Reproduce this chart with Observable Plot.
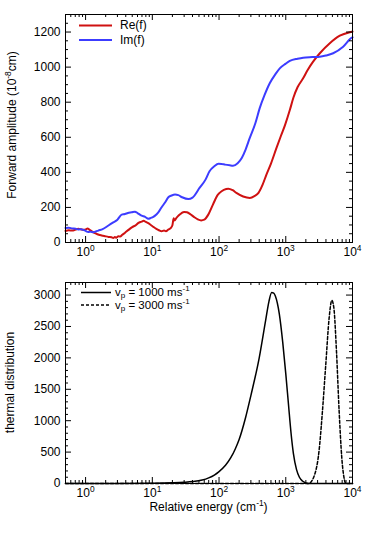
<!DOCTYPE html>
<html>
<head>
<meta charset="utf-8">
<script src="https://cdn.jsdelivr.net/npm/d3@7"></script>
<script src="https://cdn.jsdelivr.net/npm/@observablehq/plot@0.6"></script>
<style>
  html, body { margin: 0; padding: 0; background: #fff; }
  #chart svg { display: block; }
</style>
</head>
<body>
<div id="chart"></div>
<script>
// ---- Data ----
// Top panel: forward amplitude (10^-8 cm) vs relative energy (cm^-1)
const reEnergy = [0.5,0.56,0.63,0.71,0.78,0.85,0.93,1.0,1.07,1.15,1.26,1.41,1.58,1.74,1.95,2.2,2.45,2.6,2.75,2.9,3.1,3.3,3.55,3.9,4.4,5.0,5.6,6.2,6.9,7.4,8.0,8.7,9.5,10.5,11.5,12.6,13.8,15.0,16.0,17.4,19.0,20.0,20.9,21.5,23,25,27.5,30,33,37,42,48,54,60,69,81,95,102,118,138,160,182,230,290,340,390,450,513,600,724,850,977,1150,1300,1500,1820,2140,2570,3240,4570,6460,9770,10000];
const reValue  = [66,70,68,74,78,75,72,74,80,72,62,52,44,40,36,32,30,26,31,27,36,34,44,56,72,88,98,112,119,124,117,110,100,88,78,70,64,68,64,74,84,98,138,126,140,155,168,174,172,162,146,132,126,130,159,216,270,283,300,307,298,283,262,254,265,283,330,387,450,538,610,671,755,825,885,936,985,1031,1079,1136,1179,1202,1203];
const imEnergy = [0.5,0.56,0.63,0.71,0.78,0.85,0.93,1.0,1.1,1.2,1.3,1.45,1.55,1.8,2.2,2.6,3.0,3.47,3.9,4.3,4.9,5.5,6.0,6.9,7.8,8.7,9.5,10.5,11.0,12.3,13.8,15.5,17.4,19.5,21.9,24.5,28,34.7,40,51,63,72,85,98,110,123,145,162,190,219,250,288,350,407,480,575,700,813,1000,1150,1500,1820,2500,3240,4000,5130,7240,9770,10000];
const imValue  = [83,84,80,78,74,76,72,66,60,62,58,64,68,76,97,115,130,159,162,168,172,176,168,153,146,135,140,148,153,172,201,228,258,268,273,270,258,248,256,311,360,406,435,449,448,444,440,438,452,482,530,595,680,766,840,908,960,993,1020,1035,1048,1054,1057,1059,1066,1079,1116,1168,1170];

// Bottom panel: thermal distribution vs relative energy
const v1000Energy = [0.5,1,3,10,20,30,40,56,70,85,100,125,150,175,200,250,300,400,500,560,615,660,700,800,900,1000,1100,1200,1300,1450,1600,1800,2000,2200,3000,10000];
const v1000Value  = [0,0.3,1,5,12,20,30,55,90,135,190,290,410,550,700,1050,1400,2000,2600,2900,3040,3030,2980,2700,2250,1750,1250,800,480,220,100,35,8,0,0,0];
const v3000Energy = [0.5,10,100,1000,2200,2630,3160,3550,3980,4470,4900,5250,5750,6300,6900,7600,7950,10000];
const v3000Value  = [0,0,0,0,0,105,530,1160,1900,2640,2915,2800,2110,1160,420,50,0,0];

const seriesTop = ["Re(f)", "Im(f)"];
const seriesBottom = ["v_{p} = 1000 ms^{-1}", "v_{p} = 3000 ms^{-1}"];
const xMajor = [1, 10, 100, 1000, 10000];
const yTicksTop = [0, 200, 400, 600, 800, 1000, 1200];
const yTicksBottom = [0, 500, 1000, 1500, 2000, 2500, 3000];

// ---- Layout ----
const W = 374, ML = 65, MR = 22;
const FW = W - ML - MR;
const RED = "#cf1111", BLUE = "#3c3cff";
const FONT = "Liberation Sans, Arial, Helvetica, sans-serif";

const xMinor = [];
for (let k = -1; k <= 3; k++) for (let m = 2; m <= 9; m++) {
  const v = m * Math.pow(10, k);
  if (v >= 0.5 && v <= 10000) xMinor.push(v);
}
const toRows = (xs, ys) => xs.map((x, i) => ({x, y: ys[i]}));

function frameTicks(FH, yMaj, yMin) {
  return [
    Plot.tickX(xMajor, {x: d => d, insetTop: FH - 6, stroke: "black"}),
    Plot.tickX(xMajor, {x: d => d, insetBottom: FH - 6, stroke: "black"}),
    Plot.tickX(xMinor, {x: d => d, insetTop: FH - 3, stroke: "black"}),
    Plot.tickX(xMinor, {x: d => d, insetBottom: FH - 3, stroke: "black"}),
    Plot.tickY(yMaj, {y: d => d, insetRight: FW - 6, stroke: "black"}),
    Plot.tickY(yMaj, {y: d => d, insetLeft: FW - 6, stroke: "black"}),
    Plot.tickY(yMin, {y: d => d, insetRight: FW - 3, stroke: "black"}),
    Plot.tickY(yMin, {y: d => d, insetLeft: FW - 3, stroke: "black"}),
    Plot.axisX({ticks: xMajor, tickSize: 0, tickPadding: 5, label: null,
      tickFormat: d => `10^{${Math.round(Math.log10(d))}}`, fontSize: 12}),
    Plot.axisY({ticks: yMaj, tickSize: 0, tickPadding: 5, label: null, fontSize: 12,
      tickFormat: d => String(d)}),
    Plot.frame({stroke: "black", strokeWidth: 1})
  ];
}

// rich text: ^{..} superscript, _{..} subscript
function rich(el, s, fs) {
  const ns = "http://www.w3.org/2000/svg";
  while (el.firstChild) el.removeChild(el.firstChild);
  const re = /(\^|_)\{([^}]*)\}/g;
  let last = 0, m, pending = 0;
  const add = (txt, dy, small) => {
    const t = document.createElementNS(ns, "tspan");
    t.textContent = txt;
    if (small) t.setAttribute("font-size", (fs * 0.7) + "px");
    if (dy) t.setAttribute("dy", dy + "px");
    el.appendChild(t);
  };
  while ((m = re.exec(s))) {
    if (m.index > last) { add(s.slice(last, m.index), pending, false); pending = 0; }
    const shift = m[1] === "^" ? -fs * 0.42 : fs * 0.22;
    add(m[2], pending + shift, true);
    pending = -shift;
    last = re.lastIndex;
  }
  if (last < s.length) add(s.slice(last), pending, false);
}

function fixTickLabels(svg) {
  svg.querySelectorAll('g[aria-label="x-axis tick label"] text').forEach(t => rich(t, t.textContent, 12));
}

function addText(svg, x, y, str, opts = {}) {
  const fs = opts.size || 12;
  const t = d3.select(svg).append("text")
    .attr("x", x).attr("y", y)
    .attr("font-family", FONT).attr("font-size", fs)
    .attr("fill", "black")
    .attr("text-anchor", opts.anchor || "start")
    .attr("dy", "0.35em");
  if (opts.rotate) t.attr("transform", `rotate(-90 ${x} ${y})`);
  rich(t.node(), str, fs);
  return t;
}
function addLine(svg, x1, x2, y, stroke, width, dash) {
  const l = d3.select(svg).append("line")
    .attr("x1", x1).attr("x2", x2).attr("y1", y).attr("y2", y)
    .attr("stroke", stroke).attr("stroke-width", width);
  if (dash) l.attr("stroke-dasharray", dash);
}

// ---- Top panel ----
const H1 = 270, MT1 = 14, MB1 = 28, FH1 = H1 - MT1 - MB1;
const topPanel = Plot.plot({
  width: W, height: H1, marginLeft: ML, marginRight: MR, marginTop: MT1, marginBottom: MB1,
  style: {fontFamily: FONT, fontSize: "12px", color: "black", background: "white"},
  x: {type: "log", domain: [0.5, 10000]},
  y: {domain: [0, 1300]},
  marks: [
    Plot.line(toRows(reEnergy, reValue), {x: "x", y: "y", stroke: RED, strokeWidth: 2, curve: "monotone-x"}),
    Plot.line(toRows(imEnergy, imValue), {x: "x", y: "y", stroke: BLUE, strokeWidth: 2, curve: "monotone-x"}),
    ...frameTicks(FH1, yTicksTop, d3.range(0, 1301, 50).filter(v => v % 200 !== 0))
  ]
});
fixTickLabels(topPanel);
addLine(topPanel, 79, 112, 25.5, RED, 2);
addLine(topPanel, 79, 112, 40, BLUE, 2);
addText(topPanel, 120, 25, seriesTop[0]);
addText(topPanel, 120, 40, seriesTop[1]);
addText(topPanel, 12, 125, "Forward amplitude (10^{-8}cm)", {anchor: "middle", rotate: true});

// ---- Bottom panel ----
const H2 = 264, MT2 = 12, MB2 = 51, FH2 = H2 - MT2 - MB2;
const bottomPanel = Plot.plot({
  width: W, height: H2, marginLeft: ML, marginRight: MR, marginTop: MT2, marginBottom: MB2,
  style: {fontFamily: FONT, fontSize: "12px", color: "black", background: "white"},
  x: {type: "log", domain: [0.5, 10000]},
  y: {domain: [0, 3200]},
  marks: [
    Plot.line(toRows(v1000Energy, v1000Value), {x: "x", y: "y", stroke: "black", strokeWidth: 1.5, curve: "monotone-x"}),
    Plot.line(toRows(v3000Energy, v3000Value), {x: "x", y: "y", stroke: "black", strokeWidth: 1.5, strokeDasharray: "3,2", curve: "monotone-x"}),
    ...frameTicks(FH2, yTicksBottom, d3.range(0, 3201, 100).filter(v => v % 500 !== 0))
  ]
});
fixTickLabels(bottomPanel);
addLine(bottomPanel, 81, 111, 22.5, "black", 1.5);
addLine(bottomPanel, 81, 111, 35, "black", 1.5, "3,2");
addText(bottomPanel, 115, 21.5, seriesBottom[0], {size: 11.5});
addText(bottomPanel, 115, 34.5, seriesBottom[1], {size: 11.5});
addText(bottomPanel, 10, 112.5, "thermal distribution", {anchor: "middle", rotate: true});
addText(bottomPanel, 208.5, 237, "Relative energy (cm^{-1})", {anchor: "middle"});

document.getElementById("chart").append(topPanel, bottomPanel);
</script>
</body>
</html>
